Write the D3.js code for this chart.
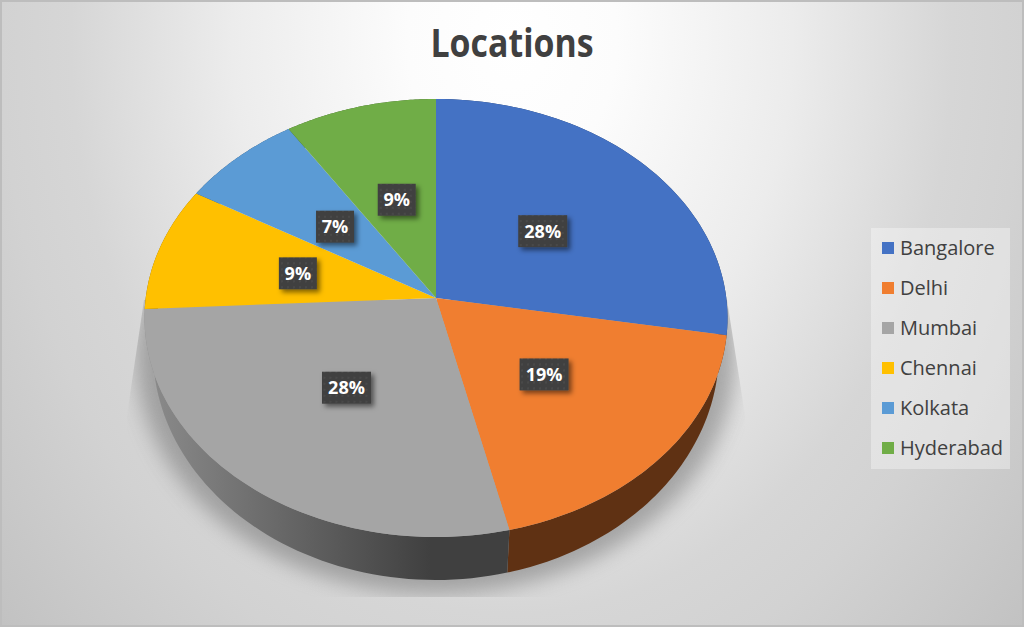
<!DOCTYPE html>
<html><head><meta charset="utf-8">
<script src="https://cdn.jsdelivr.net/npm/d3@7/dist/d3.min.js"></script>
<style>html,body{margin:0;padding:0;background:#fff}svg{display:block}text{font-family:"Open Sans","Noto Sans",sans-serif}</style>
</head><body><svg id="c" width="1024" height="627"></svg>
<script>
const categories = ["Bangalore","Delhi","Mumbai","Chennai","Kolkata","Hyderabad"];
const shares = [27.7,18.6,27.9,9.2,7.4,9.2];
const colors = ["#4472c4","#f07e30","#a5a5a5","#ffc000","#5b9bd5","#70ad47"];
const wallColors = ["#233b66","#5f3113","url(#wallGrey)","#856400","#2f5170","#3a5a25"];
const titleText = "Locations";

const svg = d3.select("#c");
const defs = svg.append("defs");

const bg = defs.append("radialGradient").attr("id","bg").attr("gradientUnits","userSpaceOnUse")
  .attr("cx",0).attr("cy",0).attr("r",1).attr("gradientTransform","translate(512,40) scale(700,910)");
[[0,"#ffffff"],[.15,"#fcfcfc"],[.4,"#ececec"],[.63,"#d6d6d6"],[.73,"#d2d2d2"],[1,"#c0c0c0"]]
  .forEach(s=>bg.append("stop").attr("offset",s[0]).attr("stop-color",s[1]));

const wg = defs.append("linearGradient").attr("id","wallGrey").attr("gradientUnits","userSpaceOnUse")
  .attr("x1",145).attr("x2",430).attr("y1",0).attr("y2",0);
wg.append("stop").attr("offset",0).attr("stop-color","#8c8c8c");
wg.append("stop").attr("offset",1).attr("stop-color","#404040");

const blur = defs.append("filter").attr("id","blur").attr("x","-20%").attr("y","-20%").attr("width","140%").attr("height","140%");
blur.append("feGaussianBlur").attr("stdDeviation",10);
const ds = defs.append("filter").attr("id","lab").attr("x","-30%").attr("y","-30%").attr("width","170%").attr("height","170%");
ds.append("feDropShadow").attr("dx",3).attr("dy",3).attr("stdDeviation",2.5).attr("flood-color","#000").attr("flood-opacity",.5);
const pat = defs.append("pattern").attr("id","dots").attr("patternUnits","userSpaceOnUse").attr("width",6).attr("height",6);
pat.append("rect").attr("width",6).attr("height",6).attr("fill","#404040");
pat.append("rect").attr("x",1).attr("y",1).attr("width",2).attr("height",2).attr("fill","#4a4a4a");

// perspective disc: unit circle -> ellipse with the apex off-centre
const persp = -0.0913;
function projector(cx, cy, rx, ry){
  const sx = d3.scaleLinear().domain([-1,1]).range([cx-rx*Math.sqrt(1-persp*persp), cx+rx*Math.sqrt(1-persp*persp)]);
  const apexY = cy + persp*ry, a = ry*(1-persp*persp);
  const sy = d3.scaleLinear().domain([-1,1]).range([apexY-a, apexY+a]);
  return (theta, r=1) => {
    const x = r*Math.sin(theta), y = -r*Math.cos(theta), w = 1+persp*y;
    return [sx(x/w), sy(y/w)];
  };
}
const topFace = projector(436,318,291.5,219);
const botFace = projector(436,351,283,229);

const pie = d3.pie().sort(null).value(d=>d)(shares);
const line = d3.line();
const arcPts = (proj,a0,a1) => d3.range(0,61).map(i=>proj(a0+(a1-a0)*i/60));

svg.append("rect").attr("width",1024).attr("height",627).attr("fill","url(#bg)");
svg.append("rect").attr("x",1).attr("y",1).attr("width",1022).attr("height",625)
   .attr("fill","none").attr("stroke","#bdbdbd").attr("stroke-width",2);

// title
svg.append("text").attr("x",512).attr("y",56.5).attr("text-anchor","middle")
   .attr("font-size",39).attr("font-weight",700).attr("fill","#404040")
   .attr("textLength",163).attr("lengthAdjust","spacingAndGlyphs").text(titleText);

// shadow
const clip = defs.append("clipPath").attr("id","shClip");
clip.append("path").attr("d", line([[144,300],[727,300],[745,415],[745,597],[127,597],[127,415]])+"Z");
svg.append("g").attr("clip-path","url(#shClip)").append("path")
   .attr("d", line(arcPts(projector(436,356,300,238),0,2*Math.PI))+"Z")
   .attr("fill","#7a7a7a").attr("opacity",.58).attr("filter","url(#blur)");

// walls
svg.append("g").selectAll("path").data(pie).join("path")
   .attr("d", d=> line(arcPts(topFace,d.startAngle,d.endAngle).concat(arcPts(botFace,d.startAngle,d.endAngle).reverse()))+"Z")
   .attr("fill",(d,i)=>wallColors[i]);

// top faces
svg.append("g").selectAll("path").data(pie).join("path")
   .attr("d", d=> line([topFace(0,0)].concat(arcPts(topFace,d.startAngle,d.endAngle)))+"Z")
   .attr("fill",(d,i)=>colors[i]);

// data labels
const fmt = d3.format(".0%"), total = d3.sum(shares);
const labels = svg.append("g").selectAll("g").data(pie).join("g")
   .attr("transform", d=>{const p=topFace((d.startAngle+d.endAngle)/2,.495);return `translate(${p[0]},${p[1]+.5})`;});
labels.append("rect").attr("filter","url(#lab)").attr("fill","url(#dots)")
   .attr("height",32).attr("y",-16)
   .attr("x",d=>fmt(d.value/total).length>2?-24.5:-19)
   .attr("width",d=>fmt(d.value/total).length>2?49:38);
labels.append("text").attr("text-anchor","middle").attr("y",6.5).attr("font-size",18).attr("font-weight",700)
   .attr("fill","#fff").text(d=>fmt(d.value/total));

// legend
svg.append("rect").attr("x",871).attr("y",228).attr("width",139).attr("height",241).attr("fill","#fff").attr("opacity",.35);
const ly = d3.scalePoint().domain(categories).range([248,448]);
const lg = svg.append("g").selectAll("g").data(categories).join("g").attr("transform",d=>`translate(0,${ly(d)})`);
lg.append("rect").attr("x",882).attr("y",-6).attr("width",12).attr("height",12).attr("fill",(d,i)=>colors[i]);
lg.append("text").attr("x",900).attr("y",7).attr("font-size",20).attr("fill","#404040").text(d=>d);
</script></body></html>
